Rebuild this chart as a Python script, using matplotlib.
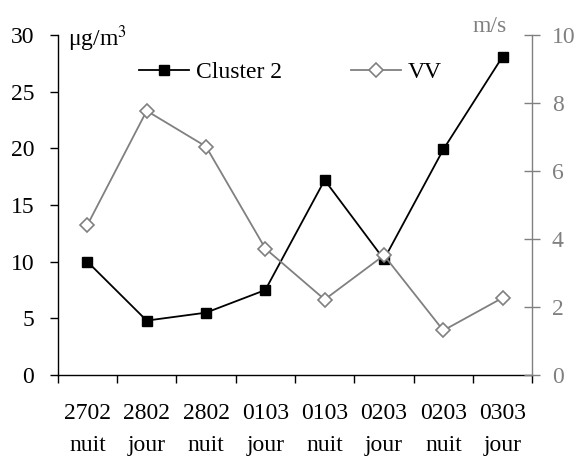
import matplotlib
matplotlib.use("Agg")
import matplotlib.pyplot as plt
import numpy as np

dates = ["2702", "2802", "2802", "0103", "0103", "0203", "0203", "0303"]
periods = ["nuit", "jour", "nuit", "jour", "nuit", "jour", "nuit", "jour"]
cluster2 = [10.0, 4.8, 5.5, 7.5, 17.2, 10.2, 19.9, 28.1]
vv = [4.41, 7.77, 6.72, 3.72, 2.22, 3.52, 1.31, 2.27]

plt.rcParams['font.family'] = ['Liberation Serif', 'DejaVu Serif']
plt.rcParams['mathtext.fontset'] = 'stix'
GRAY = '#808080'
FS = 17

fig = plt.figure(figsize=(5.82, 4.66), dpi=100)
ax = fig.add_axes([57.7/582, 1-375/466, (532.3-57.7)/582, (375-35)/466])
ax2 = ax.twinx()

x = np.arange(len(cluster2)) + 0.5
l1, = ax.plot(x, cluster2, color='black', lw=1.3, marker='s', ms=7,
              markerfacecolor='black', markeredgecolor='black', label='Cluster 2')
l2, = ax2.plot(x, vv, color=GRAY, lw=1.3, marker='D', ms=7.5,
               markerfacecolor='white', markeredgecolor=GRAY, markeredgewidth=1.2, label='VV')

ax.set_xlim(0, 8)
ax.set_ylim(0, 30)
ax2.set_ylim(0, 10)
ax.set_yticks(np.arange(0, 31, 5))
ax2.set_yticks(np.arange(0, 11, 2))

ax.set_xticks(np.arange(0, 9))
ax.set_xticklabels([])
ax.set_xticks(x, minor=True)
ax.set_xticklabels([f"{d}\n{p}" for d, p in zip(dates, periods)], minor=True,
                   fontsize=FS, linespacing=1.7)
ax.tick_params(axis='x', which='major', direction='out', length=6, width=1, color='black')
ax.tick_params(axis='x', which='minor', length=0, pad=20)
ax.tick_params(axis='y', direction='out', length=6, width=1, labelsize=FS, pad=11)
ax2.tick_params(axis='y', direction='inout', length=12, width=1, colors=GRAY,
                labelsize=FS, pad=8)

for s in ['top']:
    ax.spines[s].set_visible(False)
    ax2.spines[s].set_visible(False)
ax2.spines['left'].set_visible(False)
ax2.spines['bottom'].set_visible(False)
ax.spines['right'].set_visible(False)
ax2.spines['right'].set_color(GRAY)
for s in ['left', 'bottom']:
    ax.spines[s].set_color('black')
    ax.spines[s].set_linewidth(1)
ax2.spines['right'].set_linewidth(1)

fig.text(68/582, 1-46/466, "μg/m$^3$", fontsize=FS, ha='left', va='baseline', color='black')
fig.text(490/582, 1-32/466, "m/s", fontsize=FS, ha='center', va='baseline', color=GRAY)

fig.legend(handles=[l1, l2], loc='center left', bbox_to_anchor=(139/582, 1-72/466),
           ncol=2, frameon=False, fontsize=FS, handlelength=2.1, handletextpad=0.3,
           columnspacing=2.95, borderpad=0, borderaxespad=0)

fig.savefig("out.png", dpi=100)
